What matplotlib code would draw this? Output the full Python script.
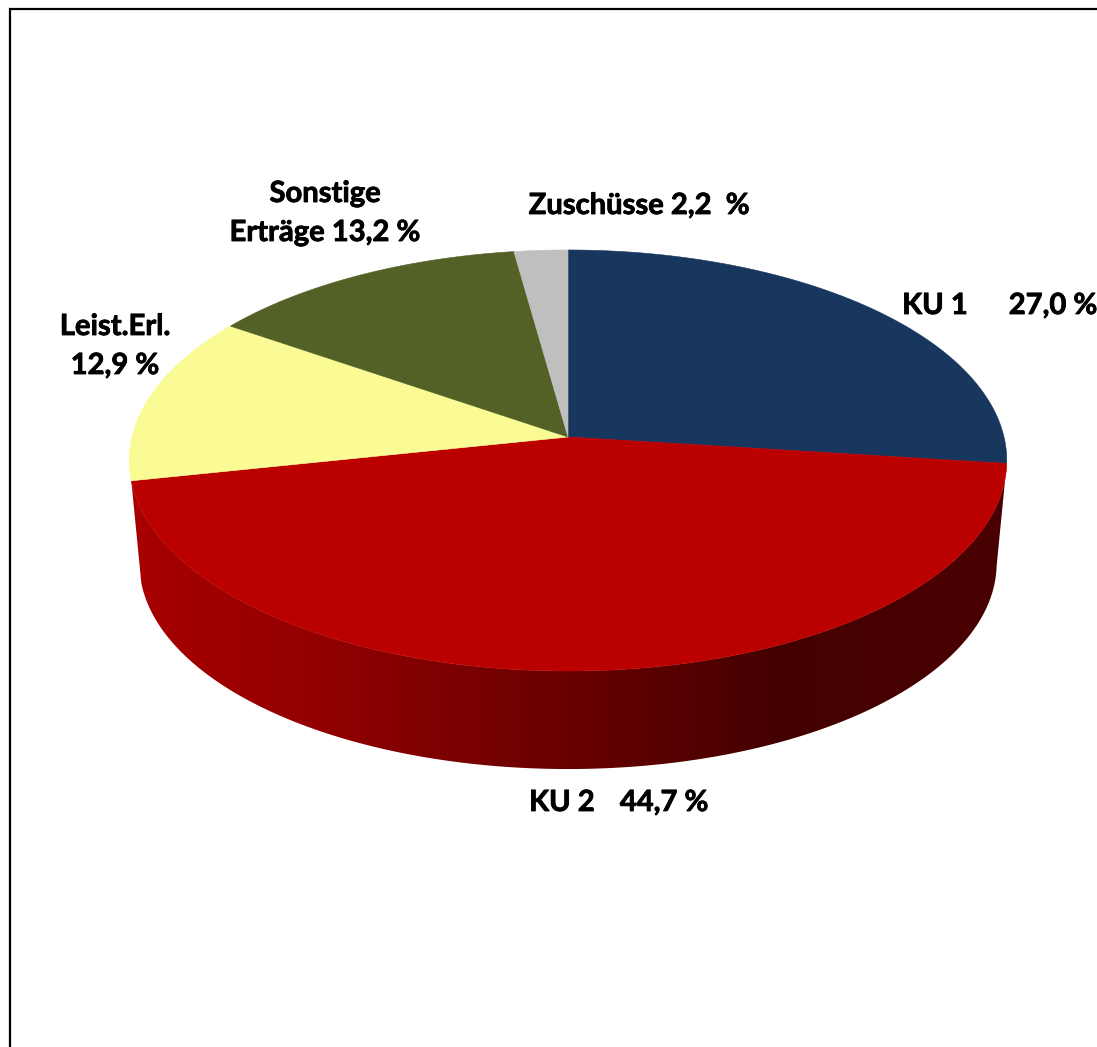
import numpy as np
import matplotlib.pyplot as plt
import matplotlib.patheffects as pe
from matplotlib.colors import LinearSegmentedColormap
from matplotlib.patches import Polygon

values = [27.0, 44.7, 12.9, 13.2, 2.2]
colors = ['#17375e', '#bb0000', '#fbfb96', '#536127', '#bfbfbf']

label_texts = ['KU 1', '27,0 %', 'KU 2', '44,7 %', 'Leist.Erl.', '12,9 %',
               'Sonstige', 'Erträge 13,2 %', 'Zuschüsse 2,2  %']
label_x = [935, 1053, 562, 664, 115, 115, 325, 325, 639]
label_y = [306, 306, 803, 803, 327, 366, 194, 233, 206]

wall_x = [130, 300, 480, 600, 700, 780, 1010]
wall_c = ['#a80000', '#950000', '#770000', '#640000', '#520000', '#440000', '#4a0000']

# perspective ellipse
cx, cy = 568, 437
bx, ay, k = 436, 207.9, 0.1116
s, cy2 = 0.977, 540.4


def rim(deg, scale=1.0, y0=cy):
    t = np.radians(deg)
    u, v = np.sin(t), np.cos(t)
    w = 1 + k * v
    return np.column_stack([cx + scale * bx * u / w, y0 - scale * ay * v / w])


plt.rcParams['font.family'] = ['Lato', 'DejaVu Sans']
fig = plt.figure(figsize=(10.97, 10.47), dpi=100)
ax = fig.add_axes([0, 0, 1, 1])
ax.set_xlim(0, 1097)
ax.set_ylim(1047, 0)
ax.axis('off')

edges = np.concatenate([[0], np.cumsum(values)]) / sum(values) * 360

# side wall of the big slice only, the others are hidden at the back
a1, a2 = edges[1], edges[2]
th = np.linspace(a1, a2, 300)
wall = np.vstack([rim(th), rim(th[::-1], s, cy2)])
stops = [(x - wall_x[0]) / (wall_x[-1] - wall_x[0]) for x in wall_x]
cmap = LinearSegmentedColormap.from_list('wall', list(zip(stops, wall_c)))
im = ax.imshow(np.linspace(0, 1, 512)[None, :], cmap=cmap, aspect='auto',
               extent=[wall_x[0], wall_x[-1], 780, 440], zorder=1)
ax.set_xlim(0, 1097)
ax.set_ylim(1047, 0)
clip = Polygon(wall, closed=True, transform=ax.transData, fc='none', ec='none')
ax.add_patch(clip)
im.set_clip_path(clip)

# top face
for i in range(len(values)):
    th = np.linspace(edges[i], edges[i + 1], 200)
    pts = np.vstack([[cx, cy], rim(th)])
    ax.add_patch(Polygon(pts, closed=True, fc=colors[i], ec=colors[i], lw=0.4, zorder=2))

# frame, left and top only
ax.plot([10, 10, 1097], [1047, 9, 9], color='black', lw=1.6, solid_joinstyle='miter', zorder=3)

for t, x, y in zip(label_texts, label_x, label_y):
    ax.text(x, y, t, ha='center', va='center', fontsize=21, fontweight='bold', color='black', zorder=4,
            path_effects=[pe.withStroke(linewidth=0.6, foreground='black')])

fig.savefig('out.png', dpi=100)
